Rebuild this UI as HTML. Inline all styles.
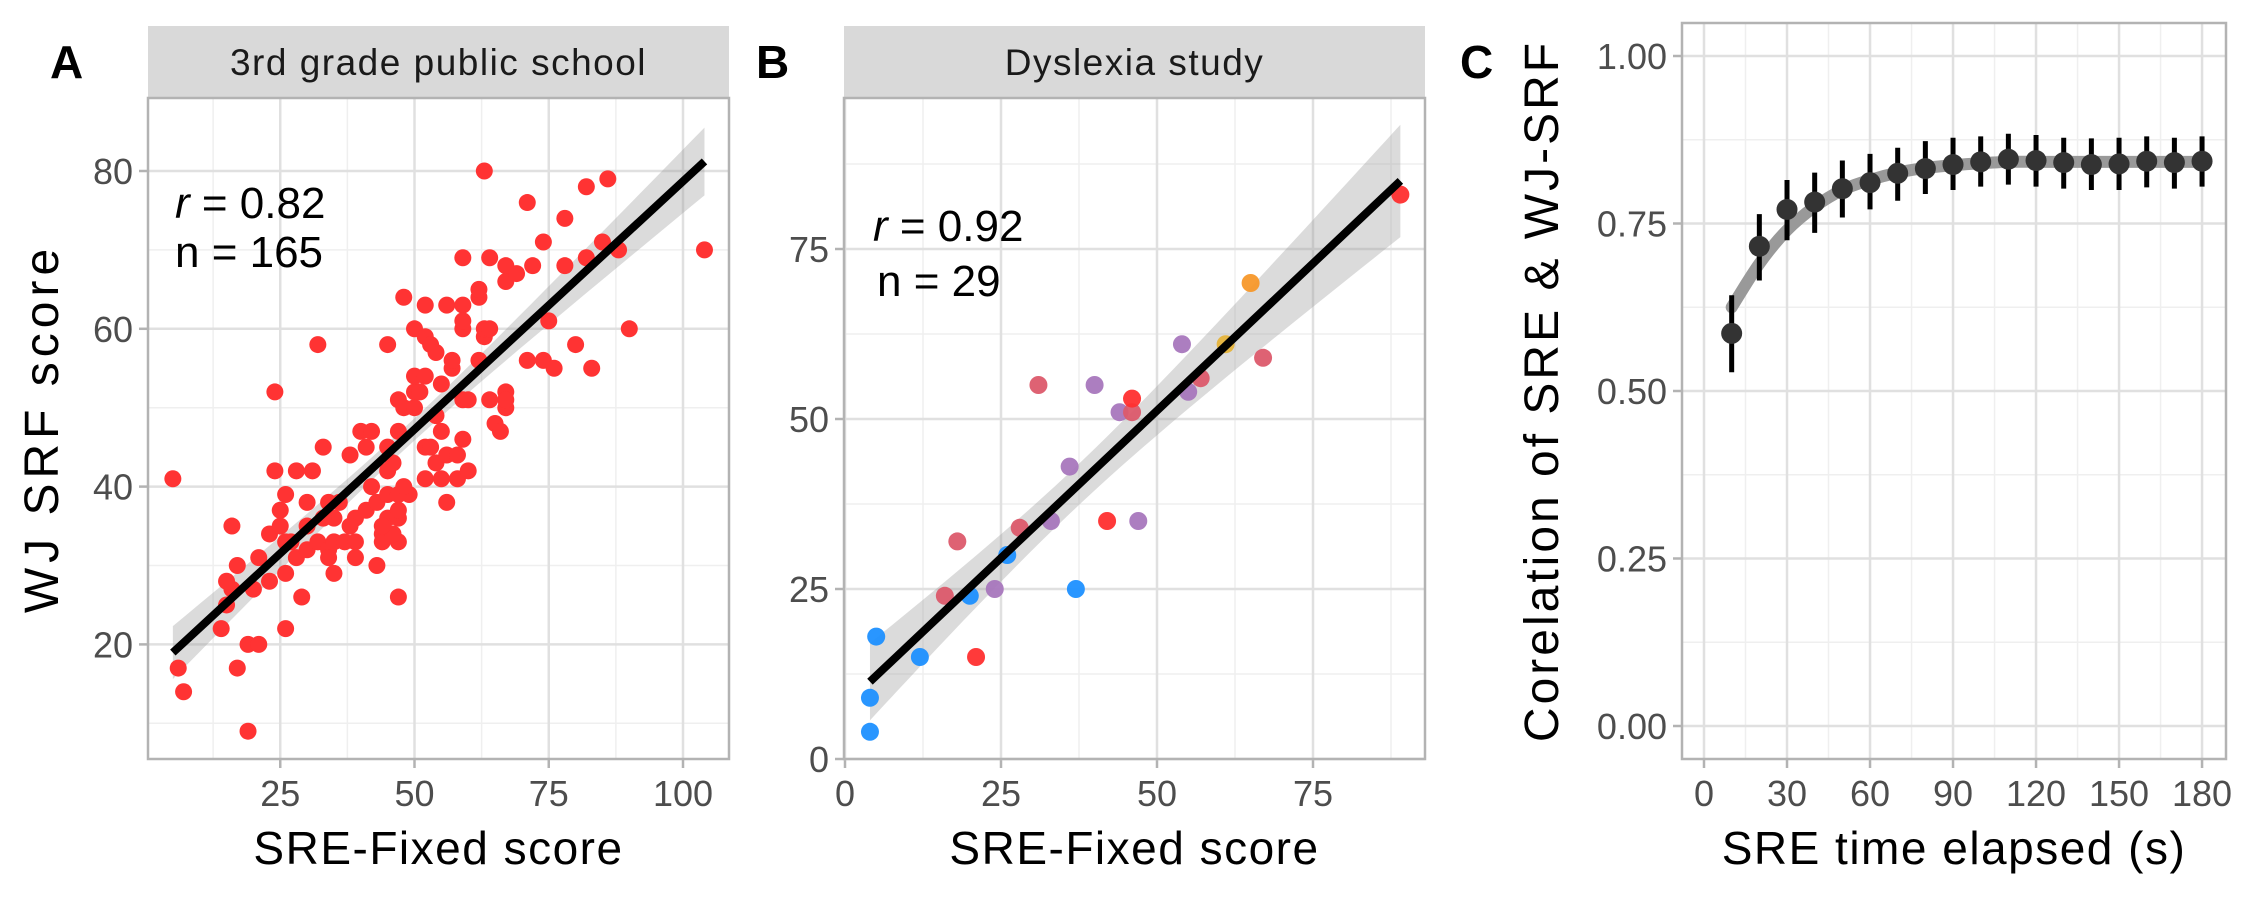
<!DOCTYPE html>
<html><head><meta charset="utf-8">
<style>
html,body{margin:0;padding:0;background:#fff;}
svg{display:block;font-family:"Liberation Sans",sans-serif;}
</style></head>
<body>
<svg id="chart" width="2250" height="900" viewBox="0 0 2250 900" xmlns="http://www.w3.org/2000/svg"></svg>
<script>
// ---------- Panel A data ----------
const aX = [5,6,7,19,17,19,21,14,26,15,16,15,17,21,20,23,16,29,26,27,28,30,23,25,25,26,30,30,24,28,31,24,32,33,32,34,35,37,39,35,34,34,36,35,39,41,39,38,41,40,42,43,44,44,43,45,45,46,45,47,45,47,47,47,46,47,49,47,45,48,47,48,50,50,50,52,51,50,52,53,54,52,56,59,52,53,52,54,55,54,55,57,57,56,56,58,58,60,59,59,60,59,59,59,62,62,62,63,64,63,63,64,64,67,67,65,66,67,67,67,69,72,71,74,76,75,74,71,78,78,82,82,86,85,88,80,83,90,104,26,33,38,42,44,48,55];
const aY = [41,17,14,9,17,20,20,22,22,25,27,28,30,31,27,28,35,26,29,33,31,32,34,35,37,39,38,35,42,42,42,52,58,45,33,32,33,33,33,29,31,38,38,36,36,37,31,44,45,47,47,30,34,33,38,39,42,43,45,47,36,36,37,33,34,26,39,39,58,64,51,50,52,50,54,54,52,60,59,58,57,63,63,63,45,45,41,43,41,49,53,55,56,38,44,44,41,42,46,51,51,60,61,69,64,65,56,80,69,59,60,60,51,52,50,48,47,51,68,66,67,68,56,56,55,61,71,76,74,68,69,78,79,71,70,58,55,60,70,33,36,35,40,35,40,47];
// ---------- Panel B data ----------
const bX = [4,4,5,12,20,26,37,21,16,18,24,28,33,31,36,40,44,46,46,42,47,54,55,57,61,65,67,89];
const bY = [4,9,18,15,24,30,25,15,24,32,25,34,35,55,43,55,51,51,53,35,35,61,54,56,61,70,59,83];
const bGroup = ["blue","blue","blue","blue","blue","blue","blue","red","rose","rose","purple","rose","purple","rose","purple","purple","purple","rose","red","red","purple","purple","purple","rose","gold","orange","rose","red"];
// ---------- Panel C data ----------
const cX = [10,20,30,40,50,60,70,80,90,100,110,120,130,140,150,160,170,180];
const cY = [0.586,0.716,0.771,0.782,0.802,0.811,0.825,0.832,0.838,0.842,0.846,0.844,0.841,0.838,0.839,0.843,0.841,0.843];
const cLo = [0.528,0.665,0.725,0.736,0.759,0.771,0.784,0.794,0.800,0.805,0.808,0.805,0.802,0.800,0.800,0.804,0.802,0.805];
const cHi = [0.643,0.764,0.815,0.826,0.844,0.854,0.863,0.873,0.878,0.880,0.884,0.882,0.878,0.877,0.878,0.880,0.878,0.880];
const cFit = [0.625,0.690,0.740,0.775,0.800,0.815,0.826,0.833,0.837,0.840,0.842,0.842,0.842,0.842,0.842,0.842,0.842,0.842];
// ---------- tick labels ----------
const aXTicks = [25,50,75,100];
const aYTicks = [20,40,60,80];
const bXTicks = [0,25,50,75];
const bYTicks = [0,25,50,75];
const cXTicks = [0,30,60,90,120,150,180];
const cYTicks = ["0.00","0.25","0.50","0.75","1.00"];

const NS="http://www.w3.org/2000/svg";
const svg=document.getElementById('chart');
function mk(tag,attrs,parent,name,inter){
  const e=document.createElementNS(NS,tag);
  for(const k in attrs) e.setAttribute(k,attrs[k]);
  
  
  (parent||svg).appendChild(e);return e;
}
const colors={blue:"#1e90ff",red:"#ff2f2f",rose:"#dc5a6c",purple:"#a877bd",gold:"#e6b43c",orange:"#f7982a"};

function panel(o){
  const g=mk('g',{},svg,o.name,false);
  const sx=v=>o.x0+(v-o.xv0)*o.xs;
  const sy=v=>o.y0-(v-o.yv0)*o.ys;
  if(o.strip){
    mk('rect',{x:o.L,y:o.stripTop,width:o.R-o.L,height:o.T-o.stripTop,fill:'#d9d9d9'},g,'strip-background',false);
    const t=mk('text',{x:(o.L+o.R)/2,y:(o.stripTop+o.T)/2+13,'text-anchor':'middle','font-size':37,fill:'#1a1a1a','letter-spacing':'1.5'},g,'strip-label',false);
    t.textContent=o.strip;
  }
  mk('rect',{x:o.L,y:o.T,width:o.R-o.L,height:o.B-o.T,fill:'#fff'},g,'plot-background',false);
  o.xMinor.forEach(v=>{const x=sx(v);if(x>o.L&&x<o.R)mk('line',{x1:x,x2:x,y1:o.T,y2:o.B,stroke:'#efefef','stroke-width':1.5},g,'x-minor-gridline',false);});
  o.yMinor.forEach(v=>{const y=sy(v);if(y>o.T&&y<o.B)mk('line',{x1:o.L,x2:o.R,y1:y,y2:y,stroke:'#efefef','stroke-width':1.5},g,'y-minor-gridline',false);});
  o.xTicks.forEach(v=>{const x=sx(+v);
    mk('line',{x1:x,x2:x,y1:o.T,y2:o.B,stroke:'#e0e0e0','stroke-width':2.5},g,'x-gridline',false);
    mk('line',{x1:x,x2:x,y1:o.B,y2:o.B+9,stroke:'#b3b3b3','stroke-width':2.5},g,'x-tick',false);
    const t=mk('text',{x:x,y:o.B+47,'text-anchor':'middle','font-size':36,fill:'#4d4d4d'},g,'x-tick-label',false);t.textContent=v;});
  o.yTicks.forEach(v=>{const y=sy(+v);
    mk('line',{x1:o.L,x2:o.R,y1:y,y2:y,stroke:'#e0e0e0','stroke-width':2.5},g,'y-gridline',false);
    mk('line',{x1:o.L-9,x2:o.L,y1:y,y2:y,stroke:'#b3b3b3','stroke-width':2.5},g,'y-tick',false);
    const t=mk('text',{x:o.L-15,y:y+13,'text-anchor':'end','font-size':36,fill:'#4d4d4d'},g,'y-tick-label',false);t.textContent=v;});
  const xt=mk('text',{x:(o.L+o.R)/2,y:864,'text-anchor':'middle','font-size':46,fill:'#000','letter-spacing':'1.5'},g,'x-axis-title',false);xt.textContent=o.xTitle;
  if(o.yTitle){const yt=mk('text',{x:0,y:0,'text-anchor':'middle','font-size':48,fill:'#000','letter-spacing':o.yLs,transform:`translate(${o.yTitleX},${(o.T+o.B)/2}) rotate(-90)`},g,'y-axis-title',false);yt.textContent=o.yTitle;}
  const lab=mk('text',{x:o.labX,y:78,'font-size':46,'font-weight':'bold',fill:'#000'},g,'panel-label',false);lab.textContent=o.label;
  return {g,sx,sy};
}

function regression(xs,ys,p,xmin,xmax,name){
  const n=xs.length;let mx=0,my=0;xs.forEach((v,i)=>{mx+=v;my+=ys[i];});mx/=n;my/=n;
  let sxx=0,sxy=0;xs.forEach((v,i)=>{sxx+=(v-mx)**2;sxy+=(v-mx)*(ys[i]-my);});
  const b=sxy/sxx,a=my-b*mx;let sse=0;xs.forEach((v,i)=>{sse+=(ys[i]-a-b*v)**2;});
  const s=Math.sqrt(sse/(n-2)),t=n>100?1.975:2.05;
  const up=[],lo=[];
  for(let k=0;k<=40;k++){const x=xmin+(xmax-xmin)*k/40;const h=t*s*Math.sqrt(1/n+(x-mx)**2/sxx);
    up.push(p.sx(x)+','+p.sy(a+b*x+h));lo.unshift(p.sx(x)+','+p.sy(a+b*x-h));}
  mk('polygon',{points:up.concat(lo).join(' '),fill:'#999','fill-opacity':0.35},p.g,name+'-confidence-band',false);
  return {a,b};
}

// ---------- Panel A ----------
const A=panel({name:'panel-a',L:148,R:729,T:98,B:759,stripTop:26,strip:'3rd grade public school',
  x0:146,xv0:0,xs:5.37,y0:171,yv0:80,ys:7.89,
  xTicks:aXTicks,yTicks:aYTicks,xMinor:[12.5,37.5,62.5,87.5],yMinor:[10,30,50,70,90],
  xTitle:'SRE-Fixed score',yTitle:'WJ SRF score',yLs:'5',yTitleX:58,label:'A',labX:50});
const fa=regression(aX,aY,A,5,104,'panel-a');
aX.forEach((v,i)=>{const c=mk('circle',{cx:A.sx(v),cy:A.sy(aY[i]),r:8.5,fill:'#ff3333'},A.g,'data-point',true);});
mk('line',{x1:A.sx(5),y1:A.sy(fa.a+fa.b*5),x2:A.sx(104),y2:A.sy(fa.a+fa.b*104),stroke:'#000','stroke-width':8},A.g,'regression-line',false);
let t=mk('text',{x:175,y:218,'font-size':44,fill:'#000'},A.g,'correlation-label',false);t.innerHTML='<tspan font-style="italic">r</tspan> = 0.82';
t=mk('text',{x:175,y:267,'font-size':44,fill:'#000'},A.g,'n-label',false);t.textContent='n = 165';

// ---------- Panel B ----------
const Bp=panel({name:'panel-b',L:844,R:1425,T:98,B:759,stripTop:26,strip:'Dyslexia study',
  x0:845,xv0:0,xs:6.24,y0:759,yv0:0,ys:6.8,
  xTicks:bXTicks,yTicks:bYTicks,xMinor:[12.5,37.5,62.5,87.5],yMinor:[12.5,37.5,62.5,87.5],
  xTitle:'SRE-Fixed score',yTitle:null,label:'B',labX:756});
const fb=regression(bX,bY,Bp,4,89,'panel-b');
bX.forEach((v,i)=>{mk('circle',{cx:Bp.sx(v),cy:Bp.sy(bY[i]),r:9,fill:colors[bGroup[i]],'fill-opacity':0.95},Bp.g,'data-point',true);});
mk('line',{x1:Bp.sx(4),y1:Bp.sy(fb.a+fb.b*4),x2:Bp.sx(89),y2:Bp.sy(fb.a+fb.b*89),stroke:'#000','stroke-width':8},Bp.g,'regression-line',false);
t=mk('text',{x:873,y:241,'font-size':44,fill:'#000'},Bp.g,'correlation-label',false);t.innerHTML='<tspan font-style="italic">r</tspan> = 0.92';
t=mk('text',{x:877,y:296,'font-size':44,fill:'#000'},Bp.g,'n-label',false);t.textContent='n = 29';

// ---------- Panel C ----------
const C=panel({name:'panel-c',L:1682,R:2226,T:23,B:759,strip:null,
  x0:1704,xv0:0,xs:2.767,y0:726,yv0:0,ys:670,
  xTicks:cXTicks,yTicks:cYTicks,xMinor:[15,45,75,105,135,165],yMinor:[0.125,0.375,0.625,0.875],
  xTitle:'SRE time elapsed (s)',yTitle:'Corelation of SRE & WJ-SRF',yLs:'3',yTitleX:1558,label:'C',labX:1460});
(function(){const P=cX.map((v,i)=>[C.sx(v),C.sy(cFit[i])]);let d='M'+P[0][0]+','+P[0][1];
  for(let i=0;i<P.length-1;i++){const p0=P[Math.max(0,i-1)],p1=P[i],p2=P[i+1],p3=P[Math.min(P.length-1,i+2)];
    d+=` C${p1[0]+(p2[0]-p0[0])/6},${p1[1]+(p2[1]-p0[1])/6} ${p2[0]-(p3[0]-p1[0])/6},${p2[1]-(p3[1]-p1[1])/6} ${p2[0]},${p2[1]}`;}
  mk('path',{d:d,fill:'none',stroke:'#999','stroke-width':12,'stroke-linecap':'round'},C.g,'fit-curve',false);})();
cX.forEach((v,i)=>{
  mk('line',{x1:C.sx(v),x2:C.sx(v),y1:C.sy(cLo[i]),y2:C.sy(cHi[i]),stroke:'#000','stroke-width':5},C.g,'error-bar',false);
  mk('circle',{cx:C.sx(v),cy:C.sy(cY[i]),r:10.5,fill:'#333'},C.g,'data-point',true);
});
[[148,98,729,759],[844,98,1425,759],[1682,23,2226,759]].forEach(b=>{
  mk('rect',{x:b[0],y:b[1],width:b[2]-b[0],height:b[3]-b[1],fill:'none',stroke:'#b3b3b3','stroke-width':2.5},svg,'panel-border',false);
});
</script>
</body></html>
